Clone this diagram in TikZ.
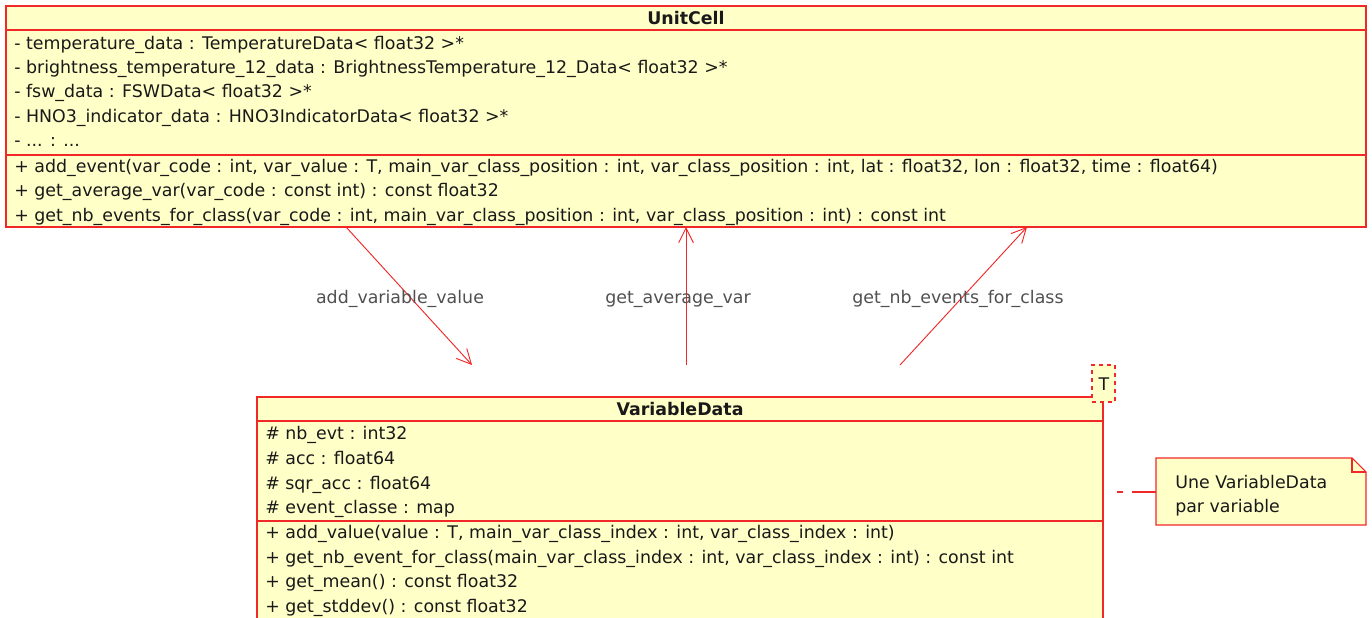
\documentclass[tikz,border=0pt]{standalone}
\usepackage{fontspec}
\setmainfont{DejaVu Sans}
\usetikzlibrary{arrows.meta,fit}
\definecolor{umlfill}{RGB}{255,255,200}
\definecolor{umlline}{RGB}{240,40,40}
\definecolor{umltext}{RGB}{25,25,25}
\definecolor{msgtext}{RGB}{80,80,80}
\newcommand\umlfont{\fontsize{13.05}{15}\selectfont}
\tikzset{
  classbox/.style={draw=umlline, fill=umlfill, line width=0.8pt, inner sep=0pt},
  sepline/.style={draw=umlline, line width=0.8pt},
  member/.style={anchor=base west, inner sep=0pt, text=umltext, font=\umlfont},
  classtitle/.style={anchor=base, inner sep=0pt, text=umltext, font=\umlfont\bfseries},
  msglabel/.style={anchor=base, inner sep=0pt, text=msgtext, font=\umlfont},
  msgline/.style={draw=umlline, line width=0.7pt, -{Straight Barb[length=11pt,width=11pt,line width=0.7pt]}},
  tparam/.style={draw=umlline, fill=umlfill, dashed, line width=0.8pt, inner sep=0pt},
  notebox/.style={draw=umlline, fill=umlfill, line width=0.8pt},
}
\begin{document}
\begin{tikzpicture}[x=0.75pt, y=-0.75pt]
\useasboundingbox (0,0) rectangle (1372,618);
\clip (0,0) rectangle (1372,618);

% ---- class UnitCell ----
\node[classbox, fit={(6,6) (1366,227)}] (unitcell) {};
\draw[sepline] (6,30) -- (1366,30);
\draw[sepline] (6,155) -- (1366,155);
\node[classtitle] (uctitle) at (686,24) {UnitCell};
\node[member] (uca1) at (14,49)  {- temperature\_data : TemperatureData< float32 >*};
\node[member] (uca2) at (14,73)  {- brightness\_temperature\_12\_data : BrightnessTemperature\_12\_Data< float32 >*};
\node[member] (uca3) at (14,97)  {- fsw\_data : FSWData< float32 >*};
\node[member] (uca4) at (14,122) {- HNO3\_indicator\_data : HNO3IndicatorData< float32 >*};
\node[member] (uca5) at (14,146) {- ... : ...};
\node[member] (ucm1) at (14,172) {+ add\_event(var\_code : int, var\_value : T, main\_var\_class\_position : int, var\_class\_position : int, lat : float32, lon : float32, time : float64)};
\node[member] (ucm2) at (14,196) {+ get\_average\_var(var\_code : const int) : const float32};
\node[member] (ucm3) at (14,221) {+ get\_nb\_events\_for\_class(var\_code : int, main\_var\_class\_position : int, var\_class\_position : int) : const int};

% ---- class VariableData (template) ----
\node[classbox, fit={(257,397) (1103,660)}] (vardata) {};
\draw[sepline] (257,421) -- (1103,421);
\draw[sepline] (257,521) -- (1103,521);
\node[classtitle] (vdtitle) at (680,415) {VariableData};
\node[member] (vda1) at (265,439) {\# nb\_evt : int32};
\node[member] (vda2) at (265,464) {\# acc : float64};
\node[member] (vda3) at (265,489) {\# sqr\_acc : float64};
\node[member] (vda4) at (265,513) {\# event\_classe : map};
\node[member] (vdm1) at (265,538) {+ add\_value(value : T, main\_var\_class\_index : int, var\_class\_index : int)};
\node[member] (vdm2) at (265,563) {+ get\_nb\_event\_for\_class(main\_var\_class\_index : int, var\_class\_index : int) : const int};
\node[member] (vdm3) at (265,587) {+ get\_mean() : const float32};
\node[member] (vdm4) at (265,612) {+ get\_stddev() : const float32};

% template parameter
\node[tparam, fit={(1092,365) (1115,402)}] (tpar) {};
\node[classtitle, font=\umlfont] (tname) at (1104,390) {T};

% ---- note ----
\coordinate (nNW) at (1156,458);
\coordinate (nSE) at (1366,525);
\node[inner sep=0pt, fit=(nNW)(nSE)] (note) {};
\filldraw[notebox] (1156,458) -- (1352,458) -- (1366,472) -- (1366,525) -- (1156,525) -- cycle;
\draw[sepline] (1352,458) -- (1352,472) -- (1366,472);
\node[member] (nt1) at (1175,488) {Une VariableData};
\node[member] (nt2) at (1175,512) {par variable};
\draw[draw=umlline, line width=0.8pt, dash pattern=on 0pt off 9.75pt on 4.5pt off 6.75pt on 45pt]
  (vardata.east |- 0,492) -- (note.west |- 0,492);

% ---- messages ----
\coordinate (m1s) at (346,227);
\coordinate (m1e) at (472,365);
\coordinate (m2s) at (686,365);
\coordinate (m2e) at (686,227);
\coordinate (m3s) at (900,365);
\coordinate (m3e) at (1027,227);
\draw[msgline] (m1s) -- (m1e);
\draw[msgline] (m2s) -- (m2e);
\draw[msgline] (m3s) -- (m3e);
\node[msglabel] (l1) at (400,303) {add\_variable\_value};
\node[msglabel] (l2) at (678,303) {get\_average\_var};
\node[msglabel] (l3) at (958,303) {get\_nb\_events\_for\_class};
\end{tikzpicture}
\end{document}
